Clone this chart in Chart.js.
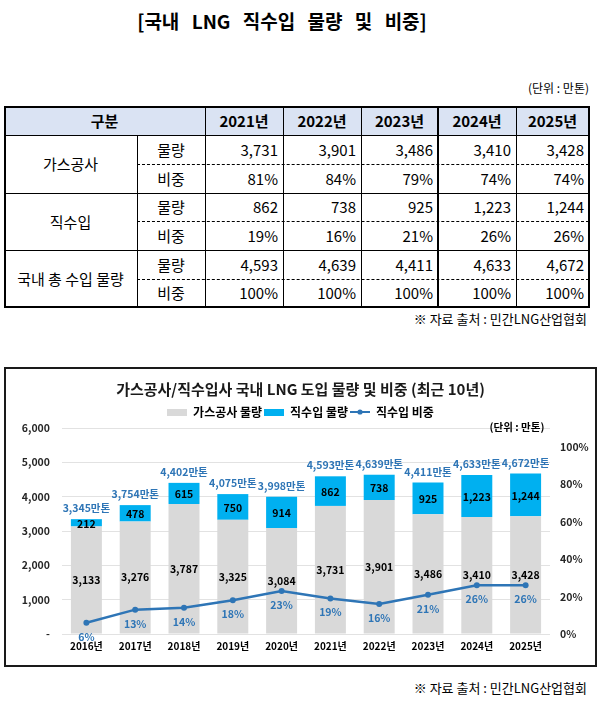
<!DOCTYPE html>
<html><head><meta charset="utf-8">
<script src="https://cdn.jsdelivr.net/npm/chart.js@4.4.0/dist/chart.umd.min.js"></script>
<style>
html,body{margin:0;padding:0;background:#fff;}
body{width:600px;height:701px;position:relative;overflow:hidden;font-family:'Noto Sans CJK KR','Noto Sans',sans-serif;color:#000;}
.abs{position:absolute;}
#title{left:0;width:564px;top:8px;text-align:center;font-size:19px;font-weight:bold;word-spacing:8px;line-height:26px;}
#unit{right:11px;top:79px;font-size:12px;line-height:18px;}
#src1{right:13px;top:310px;font-size:13px;line-height:18px;}
#src2{right:13px;top:679px;font-size:13px;line-height:18px;}
.cell{position:absolute;font-size:15px;white-space:nowrap;}
.hl{position:absolute;height:0;border-top:1px solid #000;}
.hd{position:absolute;height:0;border-top:1px dashed #000;}
.vl{position:absolute;width:0;border-left:1px solid #000;}
#chartBox{left:4px;top:367px;width:593px;height:300px;box-sizing:border-box;border:2px solid #1a1a1a;}
#chartWrap{left:5px;top:368px;width:591px;height:297px;}
</style></head>
<body>
<div id="title" class="abs">[국내 LNG 직수입 물량 및 비중]</div>
<div id="unit" class="abs">(단위 : 만톤)</div>
<div id="tbl"></div>
<div id="src1" class="abs">※ 자료 출처 : 민간LNG산업협회</div>
<div id="chartBox" class="abs"></div>
<div id="chartWrap" class="abs"><canvas id="c"></canvas></div>
<div id="src2" class="abs">※ 자료 출처 : 민간LNG산업협회</div>
<script>
// ---- table data ----
const tableYears = ['2021년','2022년','2023년','2024년','2025년'];
const kogasTableVol = [3731,3901,3486,3410,3428];
const kogasTableShare = [81,84,79,74,74];
const directTableVol = [862,738,925,1223,1244];
const directTableShare = [19,16,21,26,26];
const totalTableVol = [4593,4639,4411,4633,4672];
const totalTableShare = [100,100,100,100,100];
const groupLabels = ['가스공사','직수입','국내 총 수입 물량'];
const subLabels = ['물량','비중'];

// ---- chart data ----
const years = ['2016년','2017년','2018년','2019년','2020년','2021년','2022년','2023년','2024년','2025년'];
const kogasVol = [3133,3276,3787,3325,3084,3731,3901,3486,3410,3428];
const directVol = [212,478,615,750,914,862,738,925,1223,1244];
const totalVol = [3345,3754,4402,4075,3998,4593,4639,4411,4633,4672];
const directShare = [6,13,14,18,23,19,16,21,26,26];
const leftTicks = [0,1000,2000,3000,4000,5000,6000];
const rightTicks = [0,20,40,60,80,100];

// ---- build table ----
(function(){
  const X = [4,137,205,283,361,438,516,589];
  const Y = [106,135,164,193,221,250,279,307];
  const t = document.getElementById('tbl');
  let h = '';
  h += `<div class="abs" style="left:${X[0]}px;top:${Y[0]}px;width:${X[7]-X[0]}px;height:${Y[1]-Y[0]}px;background:#dae3f3"></div>`;
  const cell = (x0,x1,y0,y1,txt,align,bold) => {
    const pad = align==='right' ? 'padding-right:5px;box-sizing:border-box;' : '';
    return `<div class="cell" style="left:${x0}px;top:${y0}px;width:${x1-x0}px;height:${y1-y0}px;line-height:${y1-y0}px;text-align:${align};${pad}${bold?'font-weight:bold;':''}">${txt}</div>`;
  };
  h += cell(X[0],X[2],Y[0],Y[1],'구분','center',true);
  tableYears.forEach((yr,i)=>{ h += cell(X[i+2],X[i+3],Y[0],Y[1],yr,'center',true); });
  const groups = [[kogasTableVol,kogasTableShare],[directTableVol,directTableShare],[totalTableVol,totalTableShare]];
  groups.forEach((g,gi)=>{
    const r0 = 1+gi*2;
    h += cell(X[0],X[1],Y[r0],Y[r0+2],groupLabels[gi],'center',false);
    h += cell(X[1],X[2],Y[r0],Y[r0+1],subLabels[0],'center',false);
    h += cell(X[1],X[2],Y[r0+1],Y[r0+2],subLabels[1],'center',false);
    g[0].forEach((v,i)=>{ h += cell(X[i+2],X[i+3],Y[r0],Y[r0+1],v.toLocaleString('en-US'),'right',false); });
    g[1].forEach((v,i)=>{ h += cell(X[i+2],X[i+3],Y[r0+1],Y[r0+2],v+'%','right',false); });
    h += `<div class="hd" style="left:${X[1]}px;top:${Y[r0+1]}px;width:${X[7]-X[1]}px"></div>`;
  });
  [Y[1],Y[3],Y[5]].forEach(y=>{ h += `<div class="hl" style="left:${X[0]}px;top:${y}px;width:${X[7]-X[0]}px"></div>`; });
  h += `<div class="vl" style="left:${X[1]}px;top:${Y[1]}px;height:${Y[7]-Y[1]}px"></div>`;
  for (let k=2;k<7;k++) h += `<div class="vl" style="left:${X[k]}px;top:${Y[0]}px;height:${Y[7]-Y[0]}px"></div>`;
  h += `<div class="abs" style="left:${X[0]}px;top:${Y[0]}px;width:${X[7]-X[0]+1}px;height:${Y[7]-Y[0]+1}px;box-sizing:border-box;border:2px solid #000"></div>`;
  h += `<div class="abs" style="left:${X[5]-1}px;top:${Y[0]}px;width:${X[7]-X[5]+2}px;height:${Y[7]-Y[0]+1}px;box-sizing:border-box;border:2px solid #000"></div>`;
  t.innerHTML = h;
})();

// ---- chart ----
const GRAY = '#d9d9d9', BLUE = '#00b0f0', LINE = '#2e75b6';
const FONT = "'Noto Sans CJK KR','Noto Sans',sans-serif";
function swatch(color){ const c=document.createElement('canvas'); c.width=20; c.height=7; const g=c.getContext('2d'); g.fillStyle=color; g.fillRect(0,0,20,7); return c; }
function lineSwatch(color){ const c=document.createElement('canvas'); c.width=20; c.height=8; const g=c.getContext('2d'); g.strokeStyle=color; g.lineWidth=2; g.beginPath(); g.moveTo(0,4); g.lineTo(20,4); g.stroke(); g.fillStyle=color; g.beginPath(); g.arc(10,4,2.6,0,Math.PI*2); g.fill(); return c; }
const legendStyles = [swatch(GRAY), swatch(BLUE), lineSwatch(LINE)];

const labelPlugin = {
  id: 'valueLabels',
  afterDatasetsDraw(chart){
    const ctx = chart.ctx;
    const m0 = chart.getDatasetMeta(0), m1 = chart.getDatasetMeta(1), m2 = chart.getDatasetMeta(2);
    ctx.save();
    ctx.textAlign = 'center'; ctx.textBaseline = 'middle';
    for (let i=0;i<years.length;i++){
      const b0 = m0.data[i].getProps(['x','y','base'], true);
      const b1 = m1.data[i].getProps(['x','y','base'], true);
      ctx.fillStyle = '#000';
      ctx.font = `bold 10.5px ${FONT}`;
      ctx.fillText(kogasVol[i].toLocaleString('en-US'), b0.x, (b0.y+b0.base)/2);
      ctx.fillText(directVol[i].toLocaleString('en-US'), b1.x, (b1.y+b1.base)/2 + 1);
      ctx.fillStyle = LINE;
      ctx.font = `bold 10.5px ${FONT}`;
      ctx.fillText(totalVol[i].toLocaleString('en-US') + '만톤', b1.x, b1.y - 11);
      const p = m2.data[i].getProps(['x','y'], true);
      ctx.font = `bold 10.5px ${FONT}`;
      ctx.fillText(directShare[i] + '%', p.x, p.y + 14);
    }
    ctx.fillStyle = '#000';
    ctx.font = `bold 10.5px ${FONT}`;
    ctx.fillText('(단위 : 만톤)', 512, 59);
    ctx.restore();
  }
};

new Chart(document.getElementById('c'), {
  type: 'bar',
  data: {
    labels: years,
    datasets: [
      {label:'가스공사 물량', data: kogasVol, backgroundColor: GRAY, stack:'s', yAxisID:'y', order:2, barPercentage:0.635, categoryPercentage:1},
      {label:'직수입 물량', data: directVol, backgroundColor: BLUE, stack:'s', yAxisID:'y', order:2, barPercentage:0.635, categoryPercentage:1},
      {type:'line', label:'직수입 비중', data: directShare, borderColor: LINE, backgroundColor: LINE, borderWidth:2.5, pointRadius:3, pointBackgroundColor: LINE, pointBorderWidth:0, yAxisID:'y1', order:0, tension:0}
    ]
  },
  options: {
    responsive: true, maintainAspectRatio: false, animation: false,
    layout: {padding: {top:4, bottom:0, left:0, right:0}},
    plugins: {
      tooltip: {enabled:false},
      title: {display:true, text:'가스공사/직수입사 국내 LNG 도입 물량 및 비중 (최근 10년)', color:'#1a1a1a', font:{family:FONT, size:15, weight:'bold', lineHeight:1.2}, padding:{top:8, bottom:6}},
      legend: {
        display:true, position:'top',
        labels: {
          usePointStyle:true, pointStyleWidth:20, padding:2, color:'#000',
          font:{family:FONT, size:12, weight:'bold'},
          generateLabels(chart){
            return chart.data.datasets.map((ds,i)=>({text: ds.label, pointStyle: legendStyles[i], fillStyle:'rgba(0,0,0,0)', strokeStyle:'rgba(0,0,0,0)', lineWidth:0, hidden:false, datasetIndex:i, fontColor:'#000'}));
          }
        }
      }
    },
    scales: {
      x: {
        stacked:true, offset:true,
        grid:{display:false, drawTicks:false}, border:{display:false},
        ticks:{color:'#000', padding:6, font:{family:FONT, size:10, weight:'bold'}},
        afterFit(s){ s.height = 31; }
      },
      y: {
        stacked:true, position:'left', min:0, max:6000,
        afterBuildTicks(s){ s.ticks = leftTicks.map(v=>({value:v})); },
        grid:{color:'#e2e2e2', lineWidth:1, drawTicks:false}, border:{display:false},
        ticks:{color:'#262626', padding:12, font:{family:FONT, size:10.5, weight:'bold'},
          callback(v){ return v===0 ? '-' : Number(v).toLocaleString('en-US'); }},
        afterFit(s){ s.width = 57; }
      },
      y1: {
        position:'right', min:0, max:110,
        afterBuildTicks(s){ s.ticks = rightTicks.map(v=>({value:v})); },
        grid:{display:false, drawTicks:false}, border:{display:false},
        ticks:{color:'#262626', padding:10, font:{family:FONT, size:10.5, weight:'bold'},
          callback(v){ return v + '%'; }},
        afterFit(s){ s.width = 46; }
      }
    }
  },
  plugins: [labelPlugin]
});
</script>
</body></html>
